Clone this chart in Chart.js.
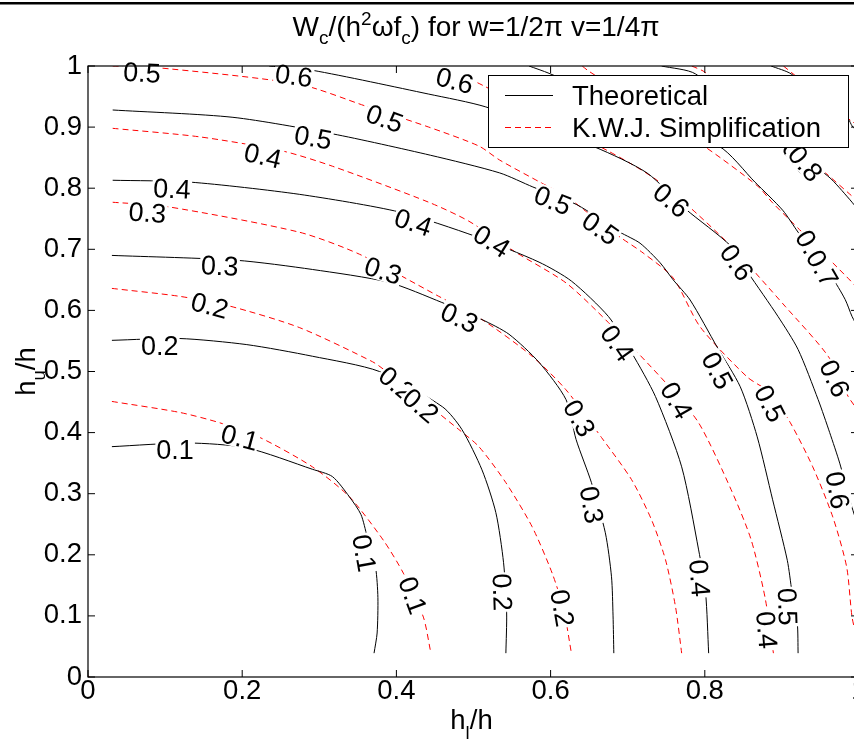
<!DOCTYPE html>
<html>
<head>
<meta charset="utf-8">
<script src="https://cdn.jsdelivr.net/npm/chart.js@4/dist/chart.umd.min.js"></script>
<style>
html,body{margin:0;padding:0;background:#fff;overflow:hidden;width:854px;height:751px;}
canvas{display:block;}
</style>
</head>
<body>
<canvas id="c" width="880" height="751"></canvas>
<script>
// ---------- DATA ----------
const xTickLabels = ['0','0.2','0.4','0.6','0.8','1'];
const yTickLabels = ['0','0.1','0.2','0.3','0.4','0.5','0.6','0.7','0.8','0.9','1'];
const seriesNames = ['Theoretical', 'K.W.J. Simplification'];
const titleText = ['W','c','/(h','2','\u03c9f','c',') for w=1/2\u03c0 v=1/4\u03c0'];
const xLabelText = ['h','l','/h'];
const yLabelText = ['h','u','/h'];

// Theoretical contours (black, solid)
const theo01 = [[0.031,0.377],[0.13,0.383],[0.206,0.375],[0.291,0.340],[0.317,0.328],[0.339,0.295],[0.354,0.266],[0.362,0.230],[0.373,0.179],[0.376,0.130],[0.375,0.072],[0.371,0.039]];
const theo02 = [[0.031,0.551],[0.119,0.554],[0.206,0.544],[0.291,0.525],[0.378,0.500],[0.46,0.442],[0.485,0.405],[0.511,0.339],[0.529,0.269],[0.539,0.187],[0.543,0.105],[0.542,0.039]];
const theo03 = [[0.031,0.690],[0.193,0.682],[0.291,0.667],[0.39,0.646],[0.459,0.613],[0.511,0.585],[0.546,0.561],[0.585,0.515],[0.620,0.454],[0.633,0.389],[0.653,0.318],[0.671,0.236],[0.679,0.164],[0.681,0.10],[0.682,0.039]];
const theo04 = [[0.032,0.813],[0.132,0.810],[0.274,0.790],[0.404,0.761],[0.503,0.721],[0.585,0.679],[0.627,0.648],[0.675,0.590],[0.705,0.531],[0.736,0.459],[0.770,0.344],[0.792,0.208],[0.801,0.138],[0.805,0.039]];
const theo05 = [[0.032,0.928],[0.188,0.916],[0.317,0.889],[0.444,0.854],[0.534,0.825],[0.577,0.802],[0.634,0.773],[0.690,0.728],[0.716,0.710],[0.742,0.678],[0.759,0.650],[0.781,0.617],[0.816,0.540],[0.846,0.475],[0.868,0.393],[0.888,0.290],[0.907,0.191],[0.913,0.140],[0.920,0.088],[0.921,0.039]];
const theo06 = [[0.235,1.0],[0.291,0.993],[0.442,0.954],[0.516,0.933],[0.658,0.867],[0.725,0.825],[0.775,0.766],[0.834,0.705],[0.856,0.662],[0.895,0.590],[0.921,0.536],[0.947,0.454],[0.962,0.400],[0.975,0.350],[0.988,0.290],[1.0,0.241]];
const theo07 = [[0.572,1.0],[0.598,0.988],[0.818,0.869],[0.865,0.810],[0.901,0.764],[0.921,0.728],[0.964,0.656],[0.982,0.618],[0.991,0.590],[1.0,0.569]];
const theo08 = [[0.744,1.0],[0.788,0.987],[0.943,0.836],[0.964,0.815],[0.991,0.777],[1.0,0.762]];
const theo09 = [[0.886,1.0],[0.912,0.987],[0.986,0.913],[0.991,0.902],[1.0,0.89]];

// K.W.J. Simplification contours (red, dashed)
const kwj01 = [[0.031,0.451],[0.119,0.433],[0.171,0.416],[0.223,0.392],[0.291,0.344],[0.339,0.295],[0.383,0.224],[0.409,0.170],[0.435,0.098],[0.444,0.044]];
const kwj02 = [[0.031,0.636],[0.119,0.623],[0.184,0.607],[0.274,0.572],[0.369,0.516],[0.387,0.500],[0.481,0.405],[0.507,0.377],[0.542,0.318],[0.576,0.246],[0.602,0.170],[0.617,0.110],[0.627,0.039]];
const kwj03 = [[0.032,0.777],[0.102,0.770],[0.274,0.728],[0.352,0.692],[0.455,0.623],[0.511,0.585],[0.576,0.525],[0.620,0.470],[0.666,0.392],[0.705,0.323],[0.731,0.257],[0.749,0.192],[0.762,0.115],[0.770,0.039]];
const kwj04 = [[0.032,0.898],[0.145,0.884],[0.252,0.861],[0.317,0.836],[0.442,0.777],[0.494,0.746],[0.555,0.695],[0.62,0.645],[0.675,0.580],[0.749,0.482],[0.792,0.416],[0.834,0.307],[0.860,0.225],[0.878,0.131],[0.889,0.039]];
const kwj05 = [[0.032,1.0],[0.084,0.998],[0.274,0.970],[0.361,0.934],[0.442,0.900],[0.507,0.869],[0.534,0.846],[0.586,0.810],[0.621,0.786],[0.647,0.761],[0.690,0.720],[0.720,0.694],[0.759,0.653],[0.794,0.573],[0.855,0.491],[0.885,0.465],[0.911,0.416],[0.940,0.344],[0.966,0.262],[0.984,0.180],[0.991,0.098],[0.998,0.06]];
const kwj06 = [[0.458,1.0],[0.511,0.969],[0.673,0.862],[0.707,0.838],[0.738,0.813],[0.783,0.766],[0.834,0.705],[0.904,0.607],[0.960,0.525],[0.986,0.459],[1.0,0.434]];
const kwj07 = [[0.641,1.0],[0.649,0.992],[0.801,0.867],[0.869,0.803],[0.888,0.776],[0.923,0.732],[0.984,0.655],[1.0,0.634]];
const kwj08 = [[0.783,1.0],[0.80,0.99],[0.951,0.831],[0.991,0.787],[1.0,0.777]];
const kwj09 = [[0.902,1.0],[0.99,0.91],[1.0,0.902]];
const kwjOrigin = [[0,0]];

// contour labels: text, x, y, angle (deg, clockwise)
const contourLabels = [
  ['0.5',0.070,0.990,3],['0.6',0.267,0.985,8],['0.6',0.476,0.977,15],
  ['0.5',0.385,0.915,20],['0.5',0.292,0.884,10],['0.4',0.227,0.854,13],
  ['0.4',0.109,0.800,3],['0.3',0.077,0.761,4],['0.4',0.422,0.745,18],
  ['0.4',0.524,0.714,32],['0.5',0.603,0.781,22],['0.5',0.665,0.735,35],
  ['0.6',0.757,0.781,40],['0.6',0.842,0.679,55],
  ['0.8',0.923,0.851,50],['0.8',0.931,0.841,50],
  ['0.7',0.939,0.702,60],['0.7',0.953,0.669,60],
  ['0.6',0.969,0.489,65],['0.3',0.171,0.674,3],['0.3',0.383,0.666,18],
  ['0.3',0.482,0.589,25],['0.2',0.158,0.609,15],['0.2',0.093,0.543,0],
  ['0.4',0.687,0.547,55],['0.4',0.764,0.453,60],['0.5',0.817,0.502,62],
  ['0.5',0.885,0.448,63],['0.2',0.401,0.481,40],['0.2',0.432,0.445,40],
  ['0.3',0.638,0.424,60],['0.3',0.654,0.282,80],['0.6',0.973,0.306,80],
  ['0.1',0.113,0.372,0],['0.1',0.197,0.393,15],['0.1',0.359,0.203,80],
  ['0.1',0.422,0.134,70],['0.2',0.538,0.139,88],['0.2',0.616,0.113,80],
  ['0.4',0.794,0.162,85],['0.5',0.908,0.115,88],['0.4',0.881,0.077,85]
];

// ---------- CHART ----------
const FONT = '"Liberation Sans", Arial, sans-serif';
const theoSets = [theo01,theo02,theo03,theo04,theo05,theo06,theo07,theo08,theo09];
const kwjSets = [kwj01,kwj02,kwj03,kwj04,kwj05,kwj06,kwj07,kwj08,kwj09];
const toPts = a => a.map(p => ({x:p[0], y:p[1]}));

const datasets = [];
theoSets.forEach(s => datasets.push({label:seriesNames[0], data:toPts(s), showLine:true, borderColor:'#000', borderWidth:1, pointRadius:0, tension:0.25, fill:false}));
kwjSets.forEach(s => datasets.push({label:seriesNames[1], data:toPts(s), showLine:true, borderColor:'#ff0000', borderWidth:1, borderDash:[6,4], pointRadius:0, tension:0.25, fill:false}));
datasets.push({label:seriesNames[1], data:toPts(kwjOrigin), showLine:false, pointRadius:1.5, pointBackgroundColor:'#ff0000', pointBorderWidth:0});

function drawRich(ctx, parts, sizes, offs, x, y){
  let w = 0;
  parts.forEach((t,i)=>{ ctx.font = sizes[i]+'px '+FONT; w += ctx.measureText(t).width; });
  let cx = x - w/2;
  parts.forEach((t,i)=>{ ctx.font = sizes[i]+'px '+FONT; ctx.fillText(t, cx, y+offs[i]); cx += ctx.measureText(t).width; });
}

const decor = {
  id:'decor',
  afterDatasetsDraw(chart){
    const ctx = chart.ctx, a = chart.chartArea, xs = chart.scales.x, ys = chart.scales.y;
    ctx.save();
    // contour labels
    ctx.font = '27px '+FONT;
    ctx.textAlign = 'center'; ctx.textBaseline = 'alphabetic';
    contourLabels.forEach(([t,vx,vy,ang])=>{
      const px = xs.getPixelForValue(vx), py = ys.getPixelForValue(vy);
      ctx.save(); ctx.translate(px,py); ctx.rotate(ang*Math.PI/180);
      const w = ctx.measureText(t).width;
      ctx.fillStyle = '#fff'; ctx.fillRect(-w/2-1,-11,w+2,22);
      ctx.fillStyle = '#000'; ctx.fillText(t,0,9.7);
      ctx.restore();
    });
    // axes box
    ctx.strokeStyle = '#000'; ctx.lineWidth = 1.2;
    ctx.strokeRect(a.left, a.top, a.right-a.left, a.bottom-a.top);
    // inward ticks on all sides
    ctx.lineWidth = 1;
    ctx.beginPath();
    xs.ticks.forEach(t=>{ const p = xs.getPixelForValue(t.value);
      ctx.moveTo(p,a.bottom); ctx.lineTo(p,a.bottom-7); ctx.moveTo(p,a.top); ctx.lineTo(p,a.top+7); });
    ys.ticks.forEach(t=>{ const p = ys.getPixelForValue(t.value);
      ctx.moveTo(a.left,p); ctx.lineTo(a.left+7,p); ctx.moveTo(a.right,p); ctx.lineTo(a.right-8,p); });
    ctx.stroke();
    // legend
    const L = {x:488, y:75, w:360, h:72};
    ctx.fillStyle = '#fff'; ctx.fillRect(L.x,L.y,L.w,L.h);
    ctx.strokeStyle = '#000'; ctx.lineWidth = 1; ctx.strokeRect(L.x+0.5,L.y+0.5,L.w,L.h);
    ctx.beginPath(); ctx.moveTo(505,95.5); ctx.lineTo(553,95.5); ctx.strokeStyle='#000'; ctx.stroke();
    ctx.beginPath(); ctx.setLineDash([6,4]); ctx.moveTo(505,127.5); ctx.lineTo(553,127.5); ctx.strokeStyle='#ff0000'; ctx.stroke();
    ctx.setLineDash([]);
    ctx.fillStyle = '#000'; ctx.textAlign = 'left';
    ctx.font = '27.5px '+FONT;
    ctx.fillText(seriesNames[0], 572, 95+10);
    ctx.fillText(seriesNames[1], 572, 127+10);
    // title
    ctx.textAlign = 'left';
    drawRich(ctx, titleText, [28,19,28,19,28,19,28], [0,8,0,-11,0,8,0], 476, 36);
    // x label
    drawRich(ctx, xLabelText, [27.5,18.5,27.5], [0,10,0], (a.left+a.right)/2 - 2, 729);
    // y label
    ctx.save(); ctx.translate(35, (a.top+a.bottom)/2); ctx.rotate(-Math.PI/2);
    drawRich(ctx, yLabelText, [27.5,18.5,27.5], [0,10,0], 0, 0);
    ctx.restore();
    // top figure border line
    ctx.fillStyle = '#000'; ctx.fillRect(0,2,880,2.5);
    ctx.restore();
  }
};

Chart.defaults.font.family = FONT;
new Chart(document.getElementById('c'), {
  type:'scatter',
  data:{datasets},
  options:{
    responsive:false, animation:false,
    layout:{padding:{top:66, right:21, left:0, bottom:0}},
    plugins:{legend:{display:false}, tooltip:{enabled:false}, title:{display:false}},
    scales:{
      x:{type:'linear', min:0, max:1,
         ticks:{stepSize:0.2, color:'#000', padding:1, font:{size:27.5, lineHeight:1}, maxRotation:0,
                callback:(v,i)=>xTickLabels[i]},
         grid:{display:false, drawTicks:false}, border:{display:false},
         afterFit:s=>{ s.height = 74; }},
      y:{type:'linear', min:0, max:1,
         ticks:{stepSize:0.1, color:'#000', padding:6, font:{size:27.5, lineHeight:1},
                callback:(v,i)=>yTickLabels[i]},
         grid:{display:false, drawTicks:false}, border:{display:false},
         afterFit:s=>{ s.width = 88; }}
    }
  },
  plugins:[decor]
});
</script>
</body>
</html>
